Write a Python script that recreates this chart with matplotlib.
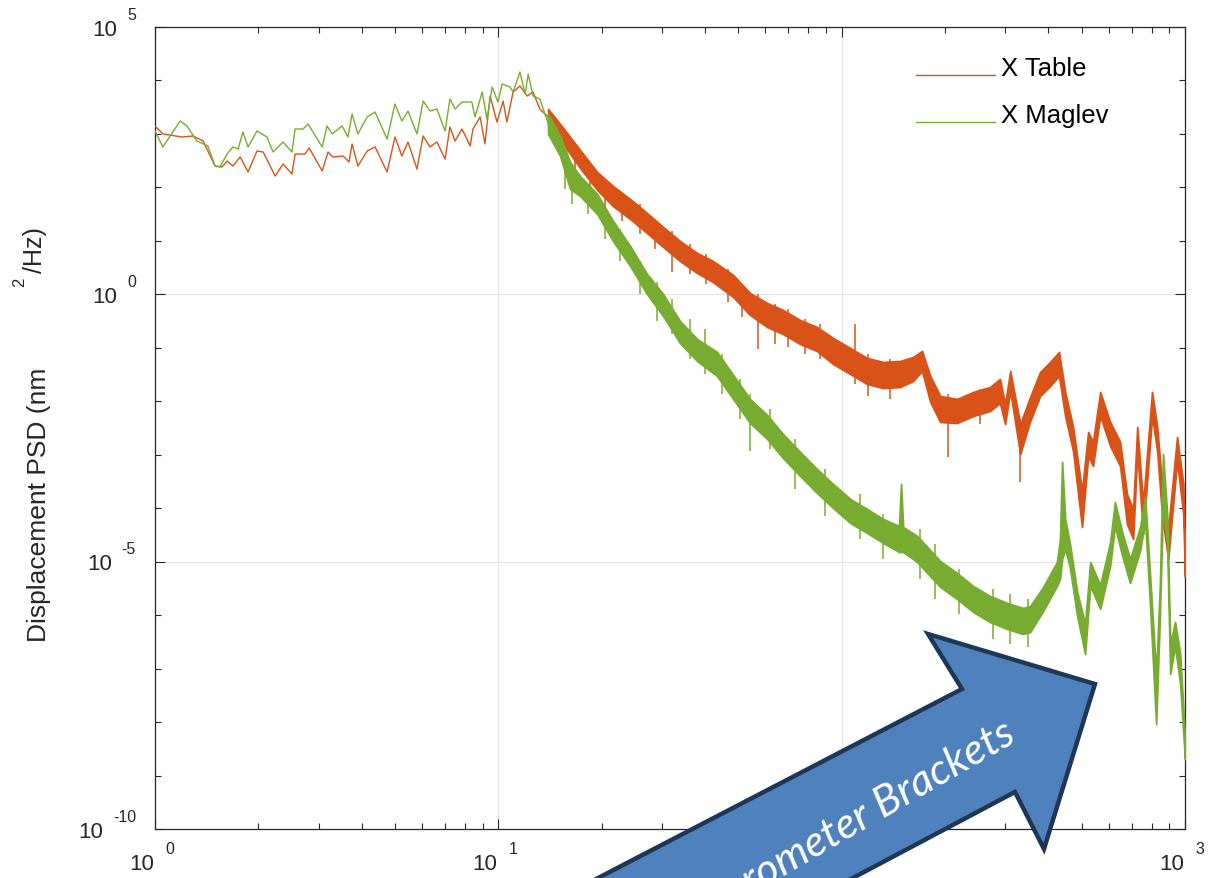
import numpy as np
import matplotlib
matplotlib.use('Agg')
import matplotlib.pyplot as plt
from matplotlib.patches import Polygon
from matplotlib.lines import Line2D
from matplotlib.ticker import FixedLocator, LogLocator, NullFormatter
from matplotlib.transforms import blended_transform_factory

plt.rcParams['font.family'] = ['Liberation Sans', 'DejaVu Sans']

# ---------------- data (log10 of frequency in Hz, log10 of PSD in nm^2/Hz) ----------------
series_labels = ['X Table', 'X Maglev']

# low-frequency part, single traces
table_low_f_exp = [0.000, 0.023, 0.079, 0.111, 0.140, 0.175, 0.195, 0.210, 0.227, 0.248,
                   0.271, 0.297, 0.315, 0.350, 0.373, 0.399, 0.408, 0.437, 0.449, 0.487,
                   0.504, 0.518, 0.548, 0.565, 0.574, 0.591, 0.618, 0.641, 0.676, 0.699,
                   0.719, 0.737, 0.763, 0.781, 0.801, 0.821, 0.845, 0.859, 0.874, 0.894,
                   0.918, 0.926, 0.947, 0.961, 0.976, 0.996, 1.014, 1.025, 1.043, 1.063,
                   1.084, 1.101, 1.121, 1.145]
table_low_psd_exp = [3.149, 3.000, 2.943, 2.962, 2.868, 2.400, 2.382, 2.494, 2.400, 2.569,
                     2.288, 2.681, 2.662, 2.213, 2.438, 2.251, 2.625, 2.625, 2.737, 2.307,
                     2.662, 2.569, 2.587, 2.475, 2.812, 2.400, 2.681, 2.756, 2.288, 2.943,
                     2.587, 2.849, 2.344, 2.962, 2.756, 2.849, 2.531, 3.130, 2.868, 3.092,
                     2.775, 3.092, 3.317, 2.812, 3.710, 3.223, 3.616, 3.223, 3.784, 3.897,
                     3.710, 3.784, 3.466, 3.317]

maglev_low_f_exp = [0.000, 0.023, 0.073, 0.093, 0.122, 0.154, 0.175, 0.189, 0.210, 0.227,
                    0.242, 0.256, 0.271, 0.297, 0.326, 0.344, 0.373, 0.399, 0.408, 0.431,
                    0.446, 0.487, 0.501, 0.516, 0.545, 0.562, 0.574, 0.591, 0.618, 0.641,
                    0.676, 0.699, 0.719, 0.737, 0.763, 0.781, 0.801, 0.821, 0.845, 0.859,
                    0.874, 0.894, 0.923, 0.932, 0.953, 0.967, 0.982, 0.999, 1.011, 1.034,
                    1.043, 1.063, 1.078, 1.087, 1.101, 1.121, 1.145]
maglev_low_psd_exp = [3.055, 2.756, 3.242, 3.149, 2.868, 2.775, 2.400, 2.382, 2.625, 2.756,
                      2.718, 3.036, 2.756, 3.055, 2.943, 2.662, 2.849, 2.662, 3.092, 3.092,
                      3.186, 2.756, 3.149, 3.000, 3.149, 2.943, 3.373, 3.000, 3.317, 3.410,
                      2.905, 3.560, 3.242, 3.429, 3.000, 3.616, 3.429, 3.466, 3.055, 3.653,
                      3.466, 3.597, 3.597, 3.317, 3.784, 3.279, 3.878, 3.597, 3.934, 3.878,
                      3.784, 4.158, 3.747, 4.121, 3.710, 3.653, 3.200]

# high-frequency part: dense noisy band, upper / lower edges
table_band_f_exp = [1.145, 1.189, 1.238, 1.288, 1.334, 1.384, 1.433, 1.480, 1.529, 1.579,
                    1.625, 1.684, 1.733, 1.783, 1.829, 1.879, 1.928, 1.975, 2.025, 2.074,
                    2.121, 2.170, 2.208, 2.234, 2.258, 2.287, 2.336, 2.383, 2.432, 2.461,
                    2.476, 2.491, 2.520, 2.549, 2.578, 2.607, 2.633, 2.651, 2.674, 2.700,
                    2.718, 2.732, 2.753, 2.782, 2.811, 2.831, 2.849, 2.861, 2.878, 2.904,
                    2.919, 2.933, 2.951, 2.977, 2.995, 3.000]
table_band_upper_exp = [3.467, 3.111, 2.700, 2.288, 2.026, 1.783, 1.521, 1.260, 0.998, 0.773,
                        0.624, 0.362, 0.025, -0.162, -0.293, -0.480, -0.611, -0.816, -1.003, -1.190,
                        -1.265, -1.247, -1.172, -1.059, -1.527, -1.901, -1.957, -1.826, -1.733, -1.583,
                        -2.051, -1.434, -2.425, -1.920, -1.452, -1.265, -1.078, -1.826, -2.481, -3.678,
                        -2.574, -2.761, -1.826, -2.387, -2.761, -3.734, -4.014, -2.481, -3.921, -1.826,
                        -2.481, -3.547, -4.388, -2.668, -3.547, -4.950]
table_band_lower_exp = [3.167, 2.812, 2.363, 1.952, 1.652, 1.409, 1.147, 0.886, 0.624, 0.399,
                        0.231, -0.050, -0.386, -0.611, -0.742, -0.929, -1.059, -1.303, -1.490, -1.677,
                        -1.752, -1.733, -1.621, -1.434, -2.013, -2.387, -2.406, -2.275, -2.182, -2.032,
                        -2.425, -1.808, -2.986, -2.369, -1.901, -1.714, -1.527, -2.275, -2.930, -4.351,
                        -3.023, -3.210, -2.275, -2.836, -3.210, -4.295, -4.575, -2.930, -4.482, -2.275,
                        -2.930, -4.108, -4.950, -3.117, -4.108, -5.286]

maglev_band_f_exp = [1.145, 1.180, 1.209, 1.238, 1.288, 1.334, 1.384, 1.433, 1.480, 1.529,
                     1.579, 1.637, 1.684, 1.733, 1.783, 1.829, 1.879, 1.928, 1.975, 2.025,
                     2.074, 2.121, 2.167, 2.173, 2.179, 2.220, 2.287, 2.336, 2.383, 2.432,
                     2.482, 2.528, 2.549, 2.587, 2.627, 2.636, 2.642, 2.651, 2.665, 2.686,
                     2.709, 2.724, 2.753, 2.782, 2.796, 2.817, 2.840, 2.869, 2.884, 2.898,
                     2.916, 2.927, 2.936, 2.948, 2.957, 2.971, 2.986, 3.000]
maglev_band_upper_exp = [3.373, 2.962, 2.475, 2.213, 1.877, 1.372, 0.904, 0.381, 0.007, -0.498,
                         -0.835, -1.078, -1.508, -1.957, -2.256, -2.612, -2.948, -3.266, -3.547, -3.827,
                         -4.014, -4.201, -4.332, -3.547, -4.351, -4.519, -4.987, -5.211, -5.455, -5.642,
                         -5.772, -5.866, -5.829, -5.473, -5.006, -4.575, -3.135, -4.201, -4.669, -5.567,
                         -6.165, -5.006, -5.436, -4.632, -3.884, -4.445, -4.950, -4.351, -3.790, -5.230,
                         -7.100, -5.417, -2.986, -4.108, -6.539, -6.128, -6.726, -8.316]
maglev_band_lower_exp = [2.999, 2.587, 1.970, 1.839, 1.503, 0.998, 0.530, 0.007, -0.405, -0.910,
                         -1.247, -1.527, -1.957, -2.406, -2.705, -3.061, -3.397, -3.715, -3.996, -4.276,
                         -4.463, -4.650, -4.819, -4.819, -4.819, -5.006, -5.473, -5.698, -5.941, -6.128,
                         -6.259, -6.352, -6.315, -5.922, -5.455, -5.324, -4.950, -4.762, -5.118, -6.016,
                         -6.726, -5.455, -5.885, -5.080, -4.332, -4.893, -5.398, -4.800, -4.239, -5.791,
                         -8.035, -5.978, -3.921, -4.669, -7.100, -6.577, -7.287, -8.690]

# individual noise spikes that stick out of the bands (top / bottom of each spike)
table_spike_f_exp = [1.223, 1.267, 1.311, 1.360, 1.413, 1.457, 1.506, 1.558, 1.605, 1.669,
                     1.710, 1.757, 1.806, 1.844, 1.893, 1.937, 2.039, 2.077, 2.141, 2.310,
                     2.403, 2.520]
table_spike_top_exp = [2.718, 2.438, 2.157, 1.877, 1.690, 1.409, 1.185, 0.942, 0.755, 0.474,
                       0.194, 0.007, -0.180, -0.274, -0.461, -0.554, -0.554, -1.116, -1.209, -1.864,
                       -1.770, -2.331]
table_spike_bottom_exp = [2.195, 1.877, 1.634, 1.372, 1.129, 0.848, 0.418, 0.381, 0.194, -0.143,
                          -0.424, -1.022, -0.929, -0.985, -1.116, -1.209, -1.677, -1.901, -1.957, -3.042,
                          -2.425, -3.509]

maglev_spike_f_exp = [1.194, 1.215, 1.261, 1.311, 1.355, 1.413, 1.462, 1.506, 1.558, 1.602,
                      1.652, 1.704, 1.733, 1.792, 1.864, 1.952, 2.054, 2.121, 2.228, 2.272,
                      2.343, 2.441, 2.491, 2.543]
maglev_spike_top_exp = [2.718, 2.438, 2.064, 1.690, 1.222, 0.624, 0.231, -0.087, -0.461, -0.648,
                        -1.116, -1.583, -1.864, -2.144, -2.705, -3.266, -3.734, -4.108, -4.388, -4.669,
                        -5.136, -5.511, -5.604, -5.698]
maglev_spike_bottom_exp = [1.970, 1.690, 1.503, 1.035, 0.624, 0.007, -0.498, -0.742, -1.209, -1.490,
                           -1.864, -2.331, -2.930, -2.892, -3.640, -4.145, -4.575, -4.950, -5.324, -5.698,
                           -5.978, -6.446, -6.539, -6.595]

x_tick_exps = [0, 1, 2, 3]
y_tick_exps = [-10, -5, 0, 5]
y_label_main = 'Displacement PSD (nm'
y_label_sup = '2'
y_label_end = '/Hz)'
arrow_text = 'Accelerometer Brackets'

# ---------------- styling ----------------
C_TABLE = '#D95319'
C_MAGLEV = '#77AC30'
C_AX = '#262626'
W, H = 1213, 879

fig = plt.figure(figsize=(W / 100, H / 100), dpi=100)
fig.patch.set_facecolor('white')
ax = fig.add_axes([155 / W, 1 - 830 / H, 1030 / W, 802 / H])
ax.set_xscale('log')
ax.set_yscale('log')

series = [
    (table_low_f_exp, table_low_psd_exp, table_band_f_exp, table_band_upper_exp, table_band_lower_exp,
     table_spike_f_exp, table_spike_top_exp, table_spike_bottom_exp, C_TABLE),
    (maglev_low_f_exp, maglev_low_psd_exp, maglev_band_f_exp, maglev_band_upper_exp, maglev_band_lower_exp,
     maglev_spike_f_exp, maglev_spike_top_exp, maglev_spike_bottom_exp, C_MAGLEV),
]
for i, (lf, lp, bf, bu, bl, sf, st, sb, col) in enumerate(series):
    z = 3 + i
    ax.plot(10.0 ** np.array(lf), 10.0 ** np.array(lp), color=col, lw=1.0, zorder=z)
    ax.fill_between(10.0 ** np.array(bf), 10.0 ** np.array(bl), 10.0 ** np.array(bu),
                    facecolor=col, edgecolor=col, lw=1.3, zorder=z)
    ax.vlines(10.0 ** np.array(sf), 10.0 ** np.array(sb), 10.0 ** np.array(st),
              colors=col, lw=1.1, zorder=z)

ax.set_xlim(1, 1000)
ax.set_ylim(1e-10, 1e5)

ax.xaxis.set_major_locator(FixedLocator(10.0 ** np.array(x_tick_exps)))
ax.xaxis.set_minor_locator(LogLocator(base=10, subs=np.arange(2, 10)))
ax.yaxis.set_major_locator(FixedLocator(10.0 ** np.array(y_tick_exps, dtype=float)))
ax.yaxis.set_minor_locator(FixedLocator(10.0 ** np.arange(-10, 6, dtype=float)))
ax.xaxis.set_minor_formatter(NullFormatter())
ax.yaxis.set_minor_formatter(NullFormatter())
ax.tick_params(which='both', direction='in', top=True, right=True,
               labelbottom=False, labelleft=False, color=C_AX, width=0.8)
ax.tick_params(which='major', length=7.5)
ax.tick_params(which='minor', length=4.5)
for s in ax.spines.values():
    s.set_color(C_AX)
    s.set_linewidth(0.9)
ax.grid(which='major', color='#e3e3e3', lw=0.8)
ax.set_axisbelow(True)

# MATLAB-style tick labels: "10" with a raised exponent
BASE_FS, EXP_FS = 16, 11.5
ytr = blended_transform_factory(ax.transAxes, ax.transData)
for e in y_tick_exps:
    ex = ax.annotate(str(e), xy=(0, 10.0 ** e), xycoords=ytr, xytext=(-19, 13),
                     textcoords='offset pixels', ha='right', va='center',
                     fontsize=EXP_FS, color=C_AX, annotation_clip=False)
    ax.annotate('10', xy=(0, 0.5), xycoords=ex, xytext=(-10, -15),
                textcoords='offset pixels', ha='right', va='center',
                fontsize=BASE_FS, color=C_AX, annotation_clip=False)
xtr = blended_transform_factory(ax.transData, ax.transAxes)
for e in x_tick_exps:
    b = ax.annotate('10', xy=(10.0 ** e, 0), xycoords=xtr, xytext=(-1, -35),
                    textcoords='offset pixels', ha='right', va='center',
                    fontsize=BASE_FS, color=C_AX, annotation_clip=False)
    ax.annotate(str(e), xy=(1, 0.5), xycoords=b, xytext=(11, 15),
                textcoords='offset pixels', ha='left', va='center',
                fontsize=EXP_FS, color=C_AX, annotation_clip=False)

# y label (superscript part displaced, as in the original export)
fig.text(39 / W, 1 - 505 / H, y_label_main, rotation=90, ha='center', va='center',
         fontsize=19, color=C_AX)
fig.text(35 / W, 1 - 250 / H, y_label_end, rotation=90, ha='center', va='center',
         fontsize=18, color=C_AX)
fig.text(20 / W, 1 - 282 / H, y_label_sup, rotation=90, ha='center', va='center',
         fontsize=12, color=C_AX)

# legend (no box, line on the text baseline)
leg_y = [0.9405, 0.8815]
for lab, col, yy in zip(series_labels, [C_TABLE, C_MAGLEV], leg_y):
    ax.add_line(Line2D([0.739, 0.8155], [yy, yy], transform=ax.transAxes, color=col, lw=1.0))
    ax.text(0.8214, yy, lab, transform=ax.transAxes, ha='left', va='baseline',
            fontsize=18.5, color='black')

# block arrow overlay
def px(x, y):
    return (x / W, 1 - y / H)

arrow_pts = [px(340, 1013), px(962, 690), px(928, 635), px(1095, 685),
             px(1044, 850), px(1015, 793), px(485, 1074)]
fig.add_artist(Polygon(arrow_pts, closed=True, transform=fig.transFigure,
                       facecolor='#4F81BD', edgecolor='#1F3756', lw=3.2,
                       joinstyle='miter', zorder=20))
tx, ty = px(1018, 742)
fig.text(tx, ty, arrow_text, rotation=30, rotation_mode='anchor', ha='right', va='baseline',
         fontsize=31, color='white', family=['Lato', 'Open Sans', 'DejaVu Sans'],
         style='italic', zorder=21)

fig.savefig('out.png', dpi=100, facecolor='white')
